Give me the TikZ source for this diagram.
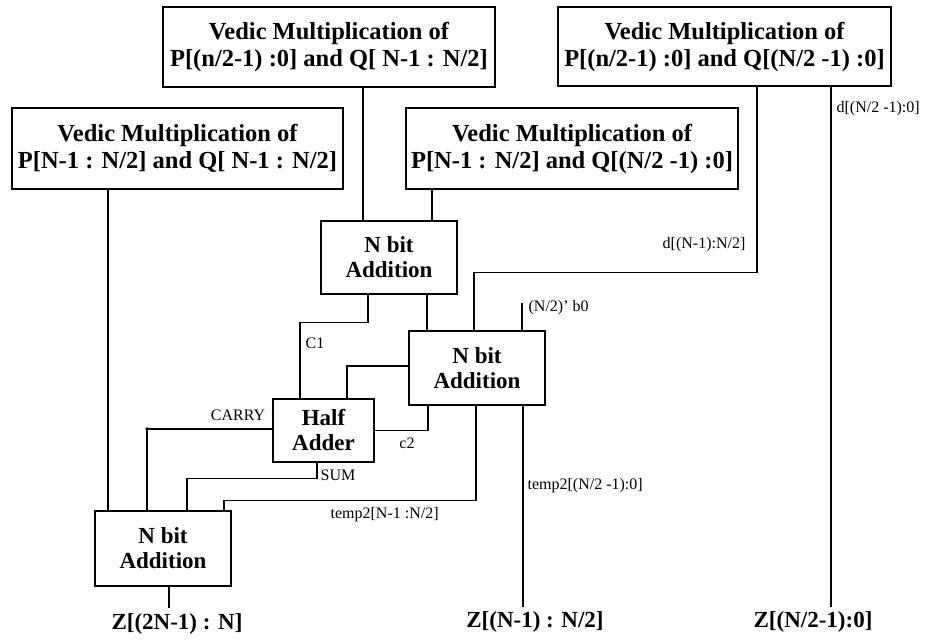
\documentclass[tikz,border=0pt]{standalone}
\usepackage{fontspec}
\setmainfont{Liberation Serif}
\begin{document}
\begin{tikzpicture}[x=1pt,y=-1pt,line width=1.3pt,
  blk/.style={draw,inner sep=0pt,align=center,font=\fontsize{24.5}{27}\selectfont\bfseries},
  adder/.style={draw,inner sep=0pt,align=center,font=\fontsize{23}{25}\selectfont\bfseries},
  lbl/.style={inner sep=0pt,font=\fontsize{16}{18}\selectfont},
  outlbl/.style={inner sep=0pt,font=\fontsize{23}{27}\selectfont\bfseries}]
\useasboundingbox (0,0) rectangle (936,640);
% blocks
\node[blk,minimum width=332pt,minimum height=80pt] (A) at (329,47) {Vedic Multiplication of\\P[(n/2-1) :0] and Q[ N-1 : N/2]};
\node[blk,minimum width=333pt,minimum height=79pt] (B) at (724.5,46.5) {Vedic Multiplication of\\P[(n/2-1) :0] and Q[(N/2 -1) :0]};
\node[blk,minimum width=331pt,minimum height=81pt] (C) at (177.5,148.5) {Vedic Multiplication of\\P[N-1 : N/2] and Q[ N-1 : N/2]};
\node[blk,minimum width=332pt,minimum height=81pt] (D) at (572,148.5) {Vedic Multiplication of\\P[N-1 : N/2] and Q[(N/2 -1) :0]};
\node[adder,minimum width=136pt,minimum height=73pt] (add1) at (389,257.5) {N bit\\Addition};
\node[adder,minimum width=136pt,minimum height=74pt] (add2) at (477,368) {N bit\\Addition};
\node[adder,minimum width=101pt,minimum height=63pt] (HA) at (323.5,430.5) {Half\\Adder};
\node[adder,minimum width=136pt,minimum height=75pt] (bot) at (163,548.5) {N bit\\Addition};
% outputs
\node[outlbl] (z1) at (177,624) {Z[(2N-1) : N]};
\node[outlbl] (z2) at (535,622) {Z[(N-1) : N/2]};
\node[outlbl] (z3) at (813,622) {Z[(N/2-1):0]};
\coordinate (o1) at (169,608);
\coordinate (o2) at (523,607);
\coordinate (o3) at (831,607);
\coordinate (bstub) at (522,303);
\coordinate (carryin) at ([xshift=-16pt]bot.north);
% connectors
\draw ([xshift=34pt]A.south) -- ([xshift=34pt]A.south |- add1.north);
\draw ([xshift=-140pt]D.south) -- ([xshift=-140pt]D.south |- add1.north);
\draw ([xshift=-21pt]add1.south) -- ++(0,28) -| ([xshift=-23.5pt]HA.north);
\draw ([xshift=38pt]add1.south) -- ([xshift=38pt]add1.south |- add2.north);
\draw ([xshift=32.5pt]B.south) -- ++(0,186) -| ([xshift=-3pt]add2.north);
\draw ([xshift=106.5pt]B.south) -- (o3);
\draw (bstub) -- (bstub |- add2.north);
\draw ([yshift=2pt]add2.west) -| ([xshift=23.5pt]HA.north);
\draw ([xshift=-49pt]add2.south) |- (HA.east);
\draw ([yshift=1.5pt]HA.west) -| (carryin);
\fill ([yshift=1.5pt]HA.west -| carryin) circle (1.8pt);
\draw ([xshift=-6.5pt]HA.south) -- ++(0,16) -| ([xshift=24pt]bot.north);
\draw ([xshift=-1pt]add2.south) -- ++(0,95) -| ([xshift=61pt]bot.north);
\draw ([xshift=46pt]add2.south) -- (o2);
\draw ([xshift=-69.5pt]C.south) -- ([xshift=-69.5pt]C.south |- bot.north);
\draw ([xshift=6pt]bot.south) -- (o1);
% labels
\node[lbl,anchor=west] (lc1) at (305,343) {C1};
\node[lbl,anchor=east] (ldh) at (746,245) {d[(N-1):N/2]};
\node[lbl,anchor=west] (ldl) at (836,109) {d[(N/2 -1):0]};
\node[lbl,anchor=west] (lb0) at (528,308) {(N/2)' b0};
\node[lbl] (lc2) at (407,443) {c2};
\node[lbl] (lcarry) at (238,415) {CARRY};
\node[lbl,anchor=west] (lsum) at (320,475) {SUM};
\node[lbl,anchor=west] (lth) at (330,515) {temp2[N-1 :N/2]};
\node[lbl,anchor=west] (ltl) at (527,486) {temp2[(N/2 -1):0]};
\end{tikzpicture}
\end{document}
